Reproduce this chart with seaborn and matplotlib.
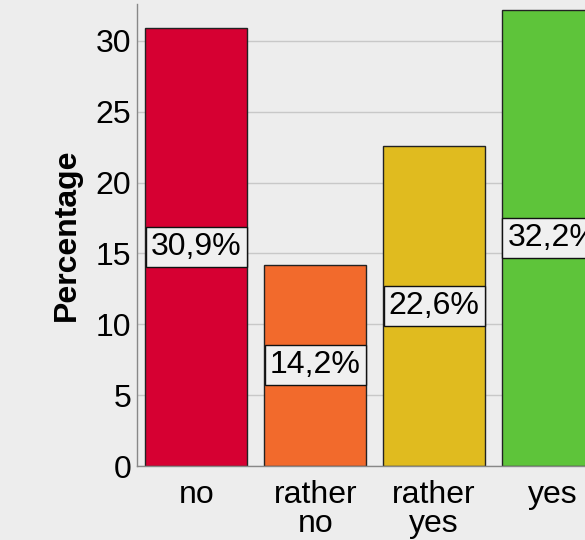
import matplotlib
matplotlib.use("Agg")
import matplotlib.pyplot as plt
import seaborn as sns
import pandas as pd

categories = ["no", "rather\nno", "rather\nyes", "yes"]
percentages = [30.9, 14.2, 22.6, 32.2]
bar_colors = ["#D60032", "#F26A2C", "#E0BB1F", "#5EC43A"]
y_ticks = [0, 5, 10, 15, 20, 25, 30]

sns.set_theme(style="white")
plt.rcParams["font.family"] = ["Liberation Sans", "DejaVu Sans"]

df = pd.DataFrame({"answer": categories, "pct": percentages})

fig = plt.figure(figsize=(5.85, 5.4), dpi=100)
fig.patch.set_facecolor("#EDEDED")
ax = fig.add_axes([137 / 585, 74 / 540, 1 - 137 / 585, (466 - 4) / 540])
ax.set_facecolor("#EDEDED")

sns.barplot(data=df, x="answer", y="pct", hue="answer", palette=bar_colors,
            order=categories, hue_order=categories, width=0.857, saturation=1,
            edgecolor="#222222", linewidth=1.0, legend=False, ax=ax, zorder=2)

ax.set_xlim(-0.5, 3.27)
ax.set_ylim(0, 32.6)
ax.set_yticks(y_ticks)
ax.yaxis.grid(True, color="#C8C8C8", linewidth=1.0, zorder=0)
ax.set_axisbelow(True)

for s in ["top", "right"]:
    ax.spines[s].set_visible(False)
for s in ["left", "bottom"]:
    ax.spines[s].set_color("#888888")
    ax.spines[s].set_linewidth(1.0)

ax.tick_params(axis="both", length=0, labelsize=23, colors="black")
ax.tick_params(axis="y", pad=4)
ax.tick_params(axis="x", pad=10)
ax.set_xlabel("")
ax.set_ylabel("Percentage", fontsize=23, fontweight="bold", color="black",
              labelpad=10)
for lab in ax.get_xticklabels():
    lab.set_linespacing(0.95)

for i, v in enumerate(percentages):
    ax.text(i, v / 2, f"{v:.1f}%".replace(".", ","), ha="center", va="center",
            fontsize=23, color="black", zorder=4,
            bbox=dict(boxstyle="square,pad=0.16", facecolor="#F0F0F0",
                      edgecolor="#111111", linewidth=1.0))

fig.savefig("out.png", dpi=100, facecolor=fig.get_facecolor())
